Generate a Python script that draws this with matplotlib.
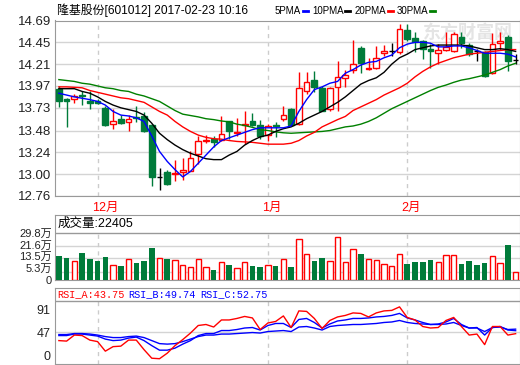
import matplotlib
matplotlib.use("Agg")
import matplotlib.pyplot as plt
from matplotlib.patches import Rectangle
from matplotlib.lines import Line2D

plt.rcParams['font.family'] = ['Liberation Sans', 'Noto Sans CJK SC', 'DejaVu Sans']

# ---- data (60 trading days, 2016-11-24 .. 2017-02-23) ----
opens = [13.94, 13.83, 13.83, 13.87, 13.80, 13.81, 13.725, 13.55, 13.61, 13.575,
         13.63, 13.64, 13.54, 12.965, 13.02, 13.00, 13.02, 13.04, 13.22, 13.37,
         13.39, 13.38, 13.58, 13.45, 13.54, 13.58, 13.54, 13.43, 13.54, 13.61,
         13.715, 13.55, 13.92, 14.04, 13.945, 13.715, 13.96, 14.06, 14.145, 14.39,
         14.16, 14.17, 14.335, 14.35, 14.34, 14.59, 14.50, 14.46, 14.38, 14.33,
         14.37, 14.35, 14.51, 14.42, 14.35, 14.34, 14.11, 14.445, 14.51, 14.255]
highs = [13.97, 13.84, 13.88, 13.91, 13.91, 13.83, 13.75, 13.72, 13.65, 13.65,
         13.745, 13.68, 13.55, 13.065, 13.05, 13.155, 13.18, 13.26, 13.42, 13.43,
         13.415, 13.64, 13.59, 13.62, 13.70, 13.67, 13.60, 13.55, 13.57, 13.745,
         13.73, 14.12, 14.12, 14.135, 13.97, 13.96, 14.24, 14.15, 14.48, 14.41,
         14.28, 14.41, 14.42, 14.445, 14.65, 14.65, 14.56, 14.48, 14.43, 14.43,
         14.56, 14.56, 14.56, 14.44, 14.38, 14.355, 14.55, 14.56, 14.53, 14.32]
lows = [13.74, 13.52, 13.78, 13.76, 13.72, 13.77, 13.525, 13.495, 13.55, 13.48,
        13.575, 13.46, 12.875, 12.83, 12.88, 12.92, 12.94, 13.03, 13.11, 13.34,
        13.30, 13.37, 13.385, 13.42, 13.33, 13.525, 13.39, 13.37, 13.41, 13.59,
        13.53, 13.54, 13.88, 13.90, 13.69, 13.70, 13.70, 13.96, 14.11, 14.11,
        14.15, 14.16, 14.30, 14.30, 14.32, 14.47, 14.34, 14.27, 14.17, 14.21,
        14.36, 14.34, 14.39, 14.30, 14.25, 14.07, 14.10, 14.37, 14.135, 14.21]
closes = [13.81, 13.80, 13.86, 13.855, 13.78, 13.78, 13.54, 13.58, 13.56, 13.61,
          13.62, 13.475, 12.965, 12.965, 12.89, 13.01, 13.045, 13.175, 13.36, 13.38,
          13.35, 13.44, 13.48, 13.46, 13.55, 13.54, 13.42, 13.525, 13.53, 13.65,
          13.54, 13.95, 14.01, 13.96, 13.70, 13.945, 14.07, 14.09, 14.21, 14.22,
          14.17, 14.28, 14.36, 14.35, 14.60, 14.49, 14.45, 14.38, 14.36, 14.37,
          14.40, 14.54, 14.44, 14.32, 14.35, 14.08, 14.43, 14.47, 14.25, 14.255]

ma5 = [13.89, 13.87, 13.85, 13.835, 13.82, 13.80, 13.76, 13.69, 13.65, 13.64,
       13.62, 13.58, 13.42, 13.25, 13.14, 13.05, 12.97, 13.03, 13.12, 13.21,
       13.30, 13.37, 13.40, 13.43, 13.46, 13.49, 13.51, 13.51, 13.51, 13.51,
       13.53, 13.69, 13.82, 13.93, 13.96, 14.00, 14.02, 14.11, 14.15, 14.20,
       14.23, 14.24, 14.28, 14.31, 14.39, 14.43, 14.45, 14.45, 14.44, 14.40,
       14.40, 14.41, 14.41, 14.39, 14.36, 14.33, 14.33, 14.33, 14.32, 14.29]
ma10 = [13.94, 13.94, 13.94, 13.91, 13.89, 13.85, 13.80, 13.76, 13.73, 13.71,
        13.69, 13.65, 13.56, 13.45, 13.38, 13.32, 13.27, 13.23, 13.20, 13.17,
        13.16, 13.16, 13.21, 13.25, 13.32, 13.37, 13.41, 13.43, 13.47, 13.50,
        13.52, 13.56, 13.61, 13.65, 13.69, 13.74, 13.79, 13.85, 13.92, 13.99,
        14.03, 14.06, 14.12, 14.21, 14.28, 14.32, 14.37, 14.39, 14.41, 14.42,
        14.42, 14.42, 14.42, 14.41, 14.39, 14.37, 14.37, 14.38, 14.37, 14.35]
ma20 = [13.96, 13.96, 13.955, 13.95, 13.92, 13.90, 13.88, 13.86, 13.84, 13.83,
        13.81, 13.79, 13.74, 13.69, 13.65, 13.58, 13.52, 13.47, 13.43, 13.405,
        13.39, 13.385, 13.37, 13.36, 13.355, 13.35, 13.34, 13.33, 13.33, 13.33,
        13.34, 13.37, 13.42, 13.46, 13.52, 13.56, 13.60, 13.635, 13.70, 13.74,
        13.78, 13.82, 13.87, 13.91, 13.95, 14.00, 14.07, 14.13, 14.18, 14.22,
        14.25, 14.28, 14.30, 14.32, 14.33, 14.34, 14.35, 14.36, 14.37, 14.37]
ma30 = [14.04, 14.03, 14.02, 14.00, 13.99, 13.97, 13.95, 13.94, 13.92, 13.91,
        13.88, 13.86, 13.83, 13.80, 13.75, 13.70, 13.66, 13.645, 13.63, 13.61,
        13.60, 13.585, 13.575, 13.55, 13.535, 13.515, 13.49, 13.48, 13.465, 13.455,
        13.45, 13.455, 13.46, 13.465, 13.47, 13.48, 13.50, 13.52, 13.53, 13.55,
        13.58, 13.62, 13.67, 13.72, 13.76, 13.80, 13.84, 13.88, 13.92, 13.955,
        13.98, 14.01, 14.035, 14.05, 14.07, 14.09, 14.12, 14.15, 14.19, 14.22]

# volume in 万, colour of each volume bar (R = up, G = down)
volume = [15.1, 13.9, 12.0, 17.2, 13.2, 12.0, 14.5, 9.2, 8.8, 13.0,
          10.9, 12.0, 20.2, 13.6, 13.2, 12.4, 9.5, 8.0, 13.0, 8.4,
          6.3, 11.1, 9.5, 7.4, 11.1, 8.8, 8.0, 9.5, 8.8, 13.0,
          8.2, 25.6, 16.2, 12.0, 13.9, 11.8, 26.9, 11.1, 19.3, 16.4,
          13.0, 12.4, 9.9, 8.6, 16.2, 10.1, 11.3, 11.3, 12.6, 11.1,
          15.5, 15.5, 10.1, 12.0, 9.5, 10.7, 15.1, 10.7, 22.0, 5.0]
vol_dir = list("GGRGGGGRGR" "GGGRGRRRRR" "GRGRRGGRGR"
               "GRRGGRRRRG" "RRRRRGGGGR" "RRGGGGRRGR")

rsi_a = [30, 29, 41, 40, 31, 28, 9, 18, 19, 31,
         31, 12, -5, -6, 5, 20, 32, 45, 60, 62,
         57, 71, 71, 74, 78, 75, 52, 65, 68, 79,
         56, 89, 88, 74, 54, 70, 77, 80, 85, 84,
         77, 85, 89, 90, 97, 76, 71, 58, 55, 56,
         70, 76, 58, 41, 43, 22, 58, 58, 41, 43.75]
rsi_b = [40, 40, 43, 43, 41, 39, 33, 30, 31, 35,
         37, 30, 20, 11, 11, 15, 23, 30, 40, 44,
         44, 50, 50, 52, 55, 56, 51, 60, 64, 64,
         56, 72, 74, 66, 55, 63, 69, 71, 74, 74,
         75, 77, 78, 80, 84, 75, 71, 66, 62, 63,
         67, 74, 62, 55, 56, 41, 56, 58, 51, 49.74]
rsi_c = [42, 42, 44, 44, 43, 41, 38, 36, 36, 38,
         39, 36, 30, 24, 23, 24, 28, 33, 38, 41,
         41, 43, 43, 44, 45, 46, 45, 48, 49, 50,
         48, 57, 58, 55, 51, 58, 60, 61, 62, 62,
         63, 64, 66, 67, 70, 66, 64, 63, 62, 62,
         63, 66, 60, 55, 55, 48, 56, 57, 52, 52.75]

price_ticks = [12.76, 13.00, 13.24, 13.48, 13.73, 13.97, 14.21, 14.45, 14.69]
vol_ticks = [0, 5.3, 13.5, 21.6, 29.8]
vol_labels = ["0", "5.3万", "13.5万", "21.6万", "29.8万"]
rsi_ticks = [0, 47, 91]
month_idx = [5, 27, 45]
month_labels = ["12月", "1月", "2月"]

RED = "#ff0000"
GREEN = "#007b3a"
BORDER = "#999999"
GRID = "#d4d4d4"

W, H = 520, 365
fig = plt.figure(figsize=(5.2, 3.65), dpi=100)
fig.patch.set_facecolor("white")


def px_box(left, top, right, bottom):
    return [left / W, 1 - bottom / H, (right - left) / W, (bottom - top) / H]


def fx(x):
    return x / W


def fy(y):
    return 1 - y / H


ax = fig.add_axes(px_box(55, 20.5, 519.5, 196))
axv = fig.add_axes(px_box(55, 214.5, 519.5, 280))
axr = fig.add_axes(px_box(55, 287.5, 519.5, 364))

n = len(closes)
for a in (ax, axv, axr):
    a.set_xlim(-0.5, n - 0.5)
    a.set_xticks([])
    for s in a.spines.values():
        s.set_color(BORDER)
    a.tick_params(axis="y", length=0, pad=3, labelsize=9, colors="#222222")

# ---- candles ----
bw = 0.74
for i, (o, h, l, c) in enumerate(zip(opens, highs, lows, closes)):
    col = RED if c > o else (GREEN if c < o else "black")
    ax.vlines(i, l, h, color=col, lw=1, zorder=3)
    if c == o:
        ax.hlines(c, i - bw / 2, i + bw / 2, color=col, lw=1, zorder=4)
    else:
        face = "white" if c > o else GREEN
        ax.add_patch(Rectangle((i - bw / 2, min(o, c)), bw, abs(c - o),
                               facecolor=face, edgecolor=col, lw=1, zorder=4))

x = list(range(n))
ax.plot(x, ma30, color="#008000", lw=1, zorder=5)
ax.plot(x, ma20, color=RED, lw=1, zorder=5)
ax.plot(x, ma10, color="black", lw=1, zorder=5)
ax.plot(x, ma5, color="#0000ff", lw=1, zorder=5)

ax.set_ylim(price_ticks[0], price_ticks[-1])
ax.set_yticks(price_ticks)
ax.set_yticklabels(["%.2f" % t for t in price_ticks], fontsize=9.5)
ax.yaxis.grid(True, color=GRID, lw=1, zorder=0)
ax.vlines(month_idx, price_ticks[0], price_ticks[-1], color="#cccccc",
          lw=1, linestyles=(0, (3, 3)), zorder=1)
for mi, lab in zip(month_idx, month_labels):
    ax.annotate(lab, xy=(mi, 0), xycoords=("data", "axes fraction"),
                xytext=(-4, -4), textcoords="offset points",
                ha="left", va="top", color=RED, fontsize=9)

ax.text(0.89, 0.93, "东方财富网", transform=ax.transAxes, ha="center", va="center",
        color="#e4e4e4", fontsize=13, fontweight="bold", zorder=1)

# ---- volume ----
for i, (v, d) in enumerate(zip(volume, vol_dir)):
    if d == "R":
        axv.add_patch(Rectangle((i - 0.35, 0), 0.7, v, facecolor="white",
                                edgecolor=RED, lw=1, zorder=3))
    else:
        axv.bar(i, v, width=0.72, color=GREEN, zorder=3)
axv.set_ylim(0, 41.1)
axv.set_yticks([])
# labels sit a little apart from the gridlines, as in the original terminal
for lab, ypx in zip(vol_labels, [280.5, 268.5, 257, 245.5, 234]):
    fig.text(fx(52), fy(ypx), lab, fontsize=8, ha="right", va="center",
             color="#222222")
axv.hlines(vol_ticks[1:-1], -0.5, n - 0.5, color=GRID, lw=1, zorder=0)
axv.axhline(vol_ticks[-1], color=BORDER, lw=1, zorder=2)
axv.vlines(month_idx, 0, vol_ticks[-1], color="#cccccc", lw=1,
           linestyles=(0, (3, 3)), zorder=1)
axv.text(0.006, 0.86, "成交量:22405", transform=axv.transAxes, ha="left",
         va="center", fontsize=9, color="black")

# ---- RSI ----
axr.plot(x, rsi_c, color="#0000ff", lw=1, zorder=3)
axr.plot(x, rsi_b, color="#0000ff", lw=1, zorder=3)
axr.plot(x, rsi_a, color=RED, lw=1, zorder=4)
axr.set_ylim(-16.5, 135.5)
axr.set_yticks(rsi_ticks)
axr.set_yticklabels([str(t) for t in rsi_ticks], fontsize=9)
axr.axhline(47, color=GRID, lw=1, zorder=0)
axr.axhline(109, color=BORDER, lw=1, zorder=2)
axr.vlines(month_idx, -16.5, 109, color="#cccccc", lw=1,
           linestyles=(0, (3, 3)), zorder=1)
for xp, txt, col in [(57, "RSI_A:%.2f" % rsi_a[-1], RED),
                     (128, "RSI_B:%.2f" % rsi_b[-1], "#0000ff"),
                     (200, "RSI_C:%.2f" % rsi_c[-1], "#0000ff")]:
    fig.text(fx(xp), fy(294), txt, color=col, fontsize=7.3,
             family=["Liberation Mono", "DejaVu Sans Mono"], ha="left", va="center")

# ---- header ----
fig.text(fx(57), fy(10.5), "隆基股份[601012] 2017-02-23 10:16", fontsize=8.6,
         ha="left", va="center", color="black")
legend_items = [("5PMA", 275, 303, "#0000ff"), ("10PMA", 312, 345, "black"),
                ("20PMA", 355, 388, RED), ("30PMA", 397, 430, "#008000")]
for lab, xt, xd, col in legend_items:
    fig.text(fx(xt), fy(10.5), lab, fontsize=7, ha="left", va="center")
    fig.add_artist(Line2D([fx(xd), fx(xd + 5)], [fy(11), fy(11)], color=col, lw=2))

fig.savefig("out.png", dpi=100, facecolor="white")
